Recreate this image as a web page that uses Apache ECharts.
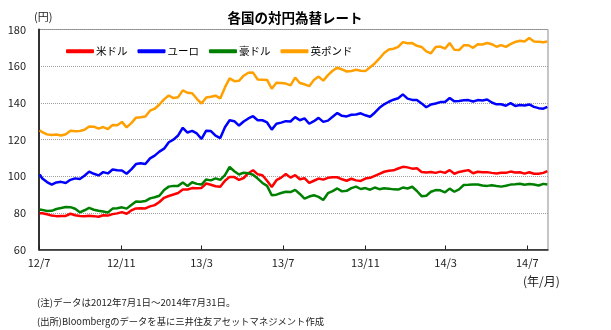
<!DOCTYPE html>
<html>
<head>
<meta charset="utf-8">
<script src="https://cdn.jsdelivr.net/npm/echarts@6/dist/echarts.min.js"></script>
<style>
  html, body { margin: 0; padding: 0; background: #fff; }
  #chart { width: 611px; height: 330px; }
</style>
</head>
<body>
<div id="chart"></div>
<script>
// Weekly observation dates (first trading day, Friday closes, last day of the period)
const dates = [
  '2012-07-02','2012-07-06','2012-07-13','2012-07-20','2012-07-27',
  '2012-08-03','2012-08-10','2012-08-17','2012-08-24','2012-08-31',
  '2012-09-07','2012-09-14','2012-09-21','2012-09-28',
  '2012-10-05','2012-10-12','2012-10-19','2012-10-26',
  '2012-11-02','2012-11-09','2012-11-16','2012-11-23','2012-11-30',
  '2012-12-07','2012-12-14','2012-12-21','2012-12-28',
  '2013-01-04','2013-01-11','2013-01-18','2013-01-25',
  '2013-02-01','2013-02-08','2013-02-15','2013-02-22',
  '2013-03-01','2013-03-08','2013-03-15','2013-03-22','2013-03-29',
  '2013-04-05','2013-04-12','2013-04-19','2013-04-26',
  '2013-05-03','2013-05-10','2013-05-17','2013-05-24','2013-05-31',
  '2013-06-07','2013-06-14','2013-06-21','2013-06-28',
  '2013-07-05','2013-07-12','2013-07-19','2013-07-26',
  '2013-08-02','2013-08-09','2013-08-16','2013-08-23','2013-08-30',
  '2013-09-06','2013-09-13','2013-09-20','2013-09-27',
  '2013-10-04','2013-10-11','2013-10-18','2013-10-25',
  '2013-11-01','2013-11-08','2013-11-15','2013-11-22','2013-11-29',
  '2013-12-06','2013-12-13','2013-12-20','2013-12-27',
  '2014-01-03','2014-01-10','2014-01-17','2014-01-24','2014-01-31',
  '2014-02-07','2014-02-14','2014-02-21','2014-02-28',
  '2014-03-07','2014-03-14','2014-03-21','2014-03-28',
  '2014-04-04','2014-04-11','2014-04-18','2014-04-25',
  '2014-05-02','2014-05-09','2014-05-16','2014-05-23','2014-05-30',
  '2014-06-06','2014-06-13','2014-06-20','2014-06-27',
  '2014-07-04','2014-07-11','2014-07-18','2014-07-25','2014-07-31'
];

// 米ドル (円)
const usd = [
  79.8, 79.8, 79.2, 78.5, 78.2, 78.3, 78.3, 79.5, 78.7, 78.3, 78.2, 78.4, 78.2, 77.9,
  78.7, 78.5, 79.3, 79.7, 80.4, 79.5, 81.3, 82.4, 82.5, 82.4, 83.5, 84.2, 85.9,
  88.2, 89.2, 90.0, 90.8, 92.7, 92.7, 93.5, 93.4, 93.6, 96.0, 95.3, 94.5, 94.2,
  97.5, 99.6, 99.5, 98.0, 99.0, 101.6, 103.2, 101.0, 100.5, 97.5, 94.1, 97.8, 99.2,
  101.2, 99.2, 100.6, 98.3, 98.9, 96.3, 97.5, 98.7, 98.1, 99.1, 99.4, 99.4, 98.3,
  97.5, 98.6, 97.7, 97.4, 98.7, 99.1, 100.2, 101.3, 102.4, 102.9, 103.2, 104.2, 105.1,
  104.8, 104.1, 104.3, 102.3, 102.0, 102.3, 101.8, 102.5, 101.8, 103.3, 101.3, 102.3, 102.8,
  103.3, 101.6, 102.4, 102.2, 102.2, 101.8, 101.5, 101.9, 101.8, 102.5, 102.0, 102.1, 101.4,
  102.1, 101.3, 101.3, 101.8, 102.8
];

// ユーロ (円)
const eur = [
  100.9, 98.7, 96.8, 95.4, 96.6, 96.9, 96.3, 98.0, 98.8, 98.4, 100.2, 102.5, 101.3, 100.4,
  102.2, 101.5, 103.6, 103.2, 103.1, 101.3, 103.7, 106.6, 107.0, 106.6, 109.7, 111.2, 113.4,
  115.0, 118.5, 119.9, 122.2, 126.4, 123.8, 124.7, 123.3, 120.3, 124.8, 124.6, 122.1, 120.8,
  126.7, 130.5, 130.0, 127.6, 129.8, 131.5, 132.7, 130.5, 130.5, 129.3, 125.4, 128.6, 129.2,
  130.0, 129.8, 132.2, 130.5, 131.5, 128.6, 130.0, 131.8, 129.6, 130.3, 132.4, 134.4, 132.9,
  132.6, 133.5, 133.6, 134.3, 133.2, 132.4, 134.6, 137.3, 139.2, 140.6, 141.7, 142.5, 144.6,
  142.3, 141.6, 141.6, 139.7, 137.6, 139.1, 139.6, 140.4, 140.5, 142.6, 140.8, 141.0, 141.4,
  141.5, 140.7, 141.5, 141.3, 141.8, 140.2, 139.2, 139.2, 138.4, 139.8, 138.3, 138.8, 138.6,
  139.1, 137.8, 137.1, 136.8, 137.8
];

// 豪ドル (円)
const aud = [
  81.8, 81.6, 81.0, 81.1, 82.1, 82.6, 83.2, 83.1, 82.2, 80.3, 81.4, 82.7, 81.7, 81.1,
  80.7, 80.2, 82.3, 82.5, 83.0, 82.3, 84.3, 86.2, 86.1, 86.4, 87.9, 88.5, 89.3,
  92.5, 94.3, 94.7, 94.7, 96.5, 94.6, 96.7, 95.8, 95.4, 98.2, 97.7, 98.8, 98.0,
  100.6, 105.0, 102.7, 100.9, 101.9, 101.6, 100.8, 98.7, 96.3, 94.7, 89.6, 89.9, 90.8,
  91.5, 91.3, 92.5, 90.3, 87.7, 88.9, 89.6, 88.7, 87.0, 90.7, 91.8, 93.3, 91.7,
  92.0, 93.5, 94.3, 93.0, 93.5, 92.6, 93.8, 92.9, 93.4, 93.2, 92.8, 92.7, 93.8,
  93.3, 94.2, 91.9, 89.1, 89.3, 91.5, 92.4, 92.3, 91.2, 93.2, 91.5, 92.8, 95.2,
  95.3, 95.5, 95.5, 94.9, 94.7, 95.0, 94.6, 94.3, 94.8, 95.4, 95.6, 95.9, 95.3,
  95.7, 95.5, 94.9, 95.8, 95.4
];

// 英ポンド (円)
const gbp = [
  125.0, 124.0, 122.8, 122.4, 122.7, 122.2, 122.9, 124.8, 124.5, 124.6, 125.3, 127.1, 127.0, 125.9,
  126.8, 125.7, 127.9, 127.8, 129.6, 126.6, 128.9, 131.9, 132.1, 132.5, 135.7, 136.8, 139.1,
  141.9, 144.0, 142.6, 143.1, 146.8, 145.5, 145.2, 142.2, 139.6, 142.9, 143.3, 143.9, 142.4,
  148.4, 153.3, 151.8, 152.0, 154.8, 156.4, 156.5, 152.7, 152.6, 152.5, 147.7, 151.0, 150.8,
  150.5, 149.5, 153.8, 150.8, 150.1, 149.1, 152.4, 154.3, 152.1, 155.1, 157.5, 159.2, 158.2,
  157.1, 157.4, 158.0, 157.5, 157.3, 159.4, 161.5, 164.2, 167.2, 169.1, 169.5, 170.5, 173.1,
  172.5, 172.6, 171.1, 170.5, 168.1, 167.0, 170.5, 170.7, 169.6, 172.6, 168.9, 168.8, 171.4,
  171.4, 170.0, 172.0, 171.8, 172.6, 172.0, 170.6, 171.5, 170.5, 172.0, 173.2, 173.9, 173.4,
  175.3, 173.4, 173.3, 173.0, 173.5
];

// x-axis tick positions and their labels
const tickDates = ['2012-07-01','2012-11-01','2013-03-01','2013-07-01','2013-11-01','2014-03-01','2014-07-01'];
const tickLabels = ['12/7','12/11','13/3','13/7','13/11','14/3','14/7'];

const FONT = '"Noto Sans CJK JP", "Noto Sans", sans-serif';
const toTime = d => Date.UTC(+d.slice(0, 4), +d.slice(5, 7) - 1, +d.slice(8, 10));
const tickTimes = tickDates.map(toTime);
const pairs = arr => dates.map((d, i) => [toTime(d), arr[i]]);

const seriesDefs = [
  { name: '米ドル', data: usd, color: '#ff0000' },
  { name: 'ユーロ', data: eur, color: '#0000ff' },
  { name: '豪ドル', data: aud, color: '#008000' },
  { name: '英ポンド', data: gbp, color: '#ffa000' }
];

const chart = echarts.init(document.getElementById('chart'), null, { renderer: 'canvas' });

chart.setOption({
  animation: false,
  backgroundColor: '#ffffff',
  title: {
    text: '各国の対円為替レート',
    left: 290, top: 6, textAlign: 'center',
    textStyle: { fontFamily: FONT, fontSize: 13.5, fontWeight: 'bold', color: '#000' }
  },
  legend: {
    left: 61, top: 41,
    itemWidth: 28, itemHeight: 4, itemGap: 10,
    icon: 'roundRect',
    textStyle: { fontFamily: FONT, fontSize: 10.5, color: '#000', padding: [0, 0, 0, -3] },
    data: seriesDefs.map(s => s.name)
  },
  grid: {
    left: 39, right: 63, top: 29.5, bottom: 80.5,
    show: true, borderColor: '#8c8c8c', borderWidth: 1
  },
  xAxis: {
    type: 'value',
    min: toTime('2012-07-01'),
    max: toTime('2014-08-01'),
    axisLine: { show: true, lineStyle: { color: '#222', width: 1.5 } },
    axisTick: { show: true, inside: true, length: 4, customValues: tickTimes, lineStyle: { color: '#222' } },
    axisLabel: {
      customValues: tickTimes,
      margin: 8,
      fontFamily: FONT, fontSize: 11, color: '#222',
      formatter: v => {
        const i = tickTimes.findIndex(t => Math.abs(t - v) < 86400000);
        return i >= 0 ? tickLabels[i] : '';
      }
    },
    splitLine: { show: false }
  },
  yAxis: {
    type: 'value',
    min: 60, max: 180, interval: 20,
    axisLine: { show: true, lineStyle: { color: '#222', width: 1.8 } },
    axisTick: { show: false },
    axisLabel: { margin: 13, fontFamily: FONT, fontSize: 11, color: '#222' },
    splitLine: { show: true, lineStyle: { type: 'dotted', color: '#a0a0a0', width: 1 } }
  },
  graphic: [
    { type: 'text', left: 34, top: 11, style: { text: '(円)', font: '11px ' + FONT, fill: '#222' } },
    { type: 'text', left: 523, top: 275, style: { text: '(年/月)', font: '12px ' + FONT, fill: '#222' } },
    { type: 'text', left: 37, top: 298, style: { text: '(注)データは2012年7月1日～2014年7月31日。', font: '9.5px ' + FONT, fill: '#222' } },
    { type: 'text', left: 37, top: 317, style: { text: '(出所)Bloombergのデータを基に三井住友アセットマネジメント作成', font: '9.3px ' + FONT, fill: '#222' } }
  ],
  series: seriesDefs.map(s => ({
    name: s.name,
    type: 'line',
    data: pairs(s.data),
    showSymbol: false,
    symbol: 'none',
    color: s.color,
    lineStyle: { color: s.color, width: 2.5 },
    itemStyle: { color: s.color }
  }))
});
</script>
</body>
</html>
